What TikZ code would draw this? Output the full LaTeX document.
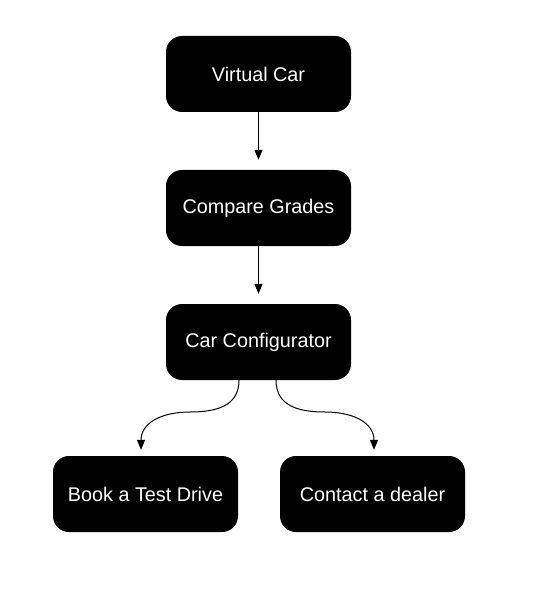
\documentclass[tikz,border=0pt]{standalone}
\usepackage{fontspec}
\setmainfont{Liberation Sans}
\usetikzlibrary{arrows.meta,calc}

\begin{document}
\begin{tikzpicture}[x=1pt,y=-1pt,
    stage/.style={fill=black,text=white,rounded corners=16pt,minimum width=185pt,
      minimum height=76pt,inner sep=0pt,font=\fontsize{19.8}{23}\selectfont},
    flow/.style={line width=1pt,-{Triangle[width=8pt,length=10pt]}}]
    \useasboundingbox (0,0) rectangle (534,593);
    \node[stage] (virtual) at (258.5,74) {Virtual Car};
    \node[stage] (compare) at (258.5,208) {Compare Grades};
    \node[stage] (config) at (258.5,342) {Car Configurator};
    \node[stage] (book) at (145.5,494) {Book a Test Drive};
    \node[stage] (contact) at (372.5,494) {Contact a dealer};
    \draw[flow,shorten >=10pt] (virtual) -- (compare);
    \draw[flow,shorten >=10pt] (compare) -- (config);
    % split below the configurator
    \coordinate (lstart) at ($(config.south)+(-19.5,0)$);
    \coordinate (rstart) at ($(config.south)+(17.5,0)$);
    \coordinate (lend) at ($(book.north)+(-4.5,0)$);
    \coordinate (rend) at ($(contact.north)+(1.5,0)$);
    \coordinate (lmid) at ($(lstart)!.5!(lend)+(0,-6)$);
    \coordinate (rmid) at ($(rstart)!.5!(rend)+(0,-6)$);
    \draw[flow,shorten >=6pt] (lstart) .. controls ($(lstart)+(0,26)$) and ($(lmid)+(26,0)$) .. (lmid)
      .. controls ($(lmid)+(-30,0)$) and ($(lend)+(0,-32)$) .. (lend);
    \draw[flow,shorten >=6pt] (rstart) .. controls ($(rstart)+(0,26)$) and ($(rmid)+(-26,0)$) .. (rmid)
      .. controls ($(rmid)+(30,0)$) and ($(rend)+(0,-32)$) .. (rend);
\end{tikzpicture}
\end{document}
